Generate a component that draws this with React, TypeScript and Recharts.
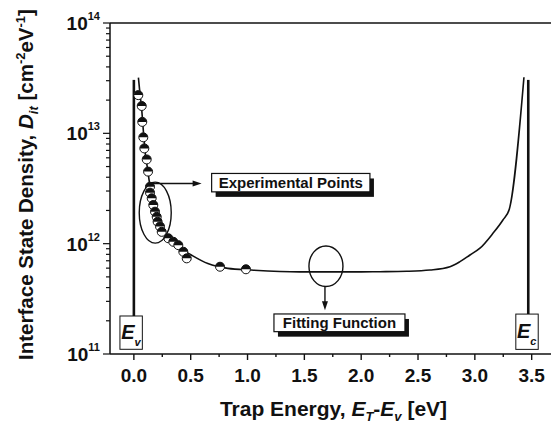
import React from "react";
import { ComposedChart, Line, Scatter, XAxis, YAxis, ReferenceLine, ReferenceDot, Label } from "recharts";

const FONT = '"Liberation Sans", Arial, Helvetica, sans-serif';
const INK = "#111";

// experimental points: E_T - E_v [eV] and Dit [cm^-2 eV^-1]
const expEnergy = [0.039, 0.069, 0.074, 0.083, 0.092, 0.113, 0.125, 0.142, 0.142, 0.157, 0.171, 0.186, 0.201, 0.209, 0.23, 0.245, 0.303, 0.347, 0.391, 0.435, 0.465, 0.758, 0.986];
const expDit = [2.22e13, 1.77e13, 1.27e13, 9.2e12, 7.3e12, 5.8e12, 4.5e12, 3.28e12, 2.9e12, 2.58e12, 2.24e12, 1.95e12, 1.75e12, 1.58e12, 1.43e12, 1.28e12, 1.12e12, 1.04e12, 9.7e11, 8.45e11, 7.36e11, 6.18e11, 5.86e11];

// fitting function
const fitEnergy = [0.04, 0.05, 0.07, 0.085, 0.1, 0.12, 0.14, 0.167, 0.211, 0.285, 0.387, 0.505, 0.651, 0.827, 1.032, 1.457, 2.0, 2.165, 2.4, 2.605, 2.781, 2.869, 2.957, 3.045, 3.159, 3.247, 3.303, 3.432];
const fitDit = [3.2e13, 2.5e13, 1.6e13, 1.0e13, 6.6e12, 4.8e12, 3.4e12, 2.32e12, 1.64e12, 1.2e12, 9.4e11, 7.9e11, 6.6e11, 5.97e11, 5.77e11, 5.55e11, 5.55e11, 5.57e11, 5.62e11, 5.77e11, 6.18e11, 6.87e11, 7.9e11, 9.1e11, 1.24e12, 1.64e12, 2.05e12, 3.22e13];

// band edges
const evEnergy = [0, 0];
const evDit = [3.05e13, 2.2e11];
const ecEnergy = [3.47, 3.47];
const ecDit = [3.05e13, 2.3e11];

const xMajor = [0, 0.5, 1, 1.5, 2, 2.5, 3, 3.5];
const xMinor = [0.25, 0.75, 1.25, 1.75, 2.25, 2.75, 3.25];
const yMajor = [1e11, 1e12, 1e13, 1e14];
const yMinor = [2e11, 3e11, 4e11, 5e11, 6e11, 7e11, 8e11, 9e11, 2e12, 3e12, 4e12, 5e12, 6e12, 7e12, 8e12, 9e12, 2e13, 3e13, 4e13, 5e13, 6e13, 7e13, 8e13, 9e13];

const expData = expEnergy.map((e, i) => ({ e, d: expDit[i] }));
const fitData = fitEnergy.map((e, i) => ({ e, d: fitDit[i] }));
const evData = evEnergy.map((e, i) => ({ e, d: evDit[i] }));
const ecData = ecEnergy.map((e, i) => ({ e, d: ecDit[i] }));

const XTick = (props: any) => {
    const { x, y, payload } = props;
    const major = xMajor.includes(payload.value);
    return (
        <g>
            <line x1={x} x2={x} y1={y} y2={y + (major ? 6 : 3)} stroke={INK} strokeWidth={1.4} />
            {major && (
                <text x={x} y={y + 28} textAnchor="middle" fontFamily={FONT} fontWeight="bold" fontSize={19} fill={INK}>
                    {payload.value.toFixed(1)}
                </text>
            )}
        </g>
    );
};

const YTick = (props: any) => {
    const { x, y, payload } = props;
    const major = yMajor.includes(payload.value);
    const exp = Math.round(Math.log10(payload.value));
    return (
        <g>
            <line x1={x - (major ? 7 : 4)} x2={x} y1={y} y2={y} stroke={INK} strokeWidth={1.2} />
            {major && (
                <text x={x - 10} y={y + 7} textAnchor="end" fontFamily={FONT} fontWeight="bold" fontSize={19} fill={INK}>
                    10<tspan fontSize={11} dy={-10}>{exp}</tspan>
                </text>
            )}
        </g>
    );
};

const XTitle = (props: any) => {
    const { x, y, width } = props.viewBox;
    return (
        <text x={x + width / 2 + 3} y={y + 62} textAnchor="middle" fontFamily={FONT} fontWeight="bold" fontSize={21} fill={INK}>
            Trap Energy, <tspan fontStyle="italic">E</tspan>
            <tspan fontSize={13} dy={5} fontStyle="italic">T</tspan>
            <tspan dy={-5}>-</tspan>
            <tspan fontStyle="italic">E</tspan>
            <tspan fontSize={13} dy={5} fontStyle="italic">v</tspan>
            <tspan dy={-5}> [eV]</tspan>
        </text>
    );
};

const YTitle = (props: any) => {
    const { y, height } = props.viewBox;
    const cx = 33;
    const cy = y + height / 2 - 4;
    return (
        <text x={cx} y={cy} transform={`rotate(-90, ${cx}, ${cy})`} textAnchor="middle" fontFamily={FONT} fontWeight="bold" fontSize={20.5} fill={INK}>
            Interface State Density, <tspan fontStyle="italic">D</tspan>
            <tspan fontSize={13} dy={5} fontStyle="italic">it</tspan>
            <tspan dy={-5}> [cm</tspan>
            <tspan fontSize={13} dy={-8}>-2</tspan>
            <tspan dy={8}>eV</tspan>
            <tspan fontSize={13} dy={-8}>-1</tspan>
            <tspan dy={8}>]</tspan>
        </text>
    );
};

const HalfDot = (props: any) => {
    const { cx, cy } = props;
    const r = 4.5;
    return (
        <g>
            <circle cx={cx} cy={cy} r={r} fill="#fff" stroke={INK} strokeWidth={1} />
            <path d={`M${cx - r},${cy} A${r},${r} 0 0 1 ${cx + r},${cy} Z`} fill={INK} />
        </g>
    );
};

const NoteBox = ({ x, y, w, h, text }: { x: number; y: number; w: number; h: number; text: string }) => (
    <g>
        <rect x={x + 4} y={y + 5} width={w} height={h} fill={INK} />
        <rect x={x} y={y} width={w} height={h} fill="#fff" stroke={INK} strokeWidth={1.2} />
        <text x={x + w / 2} y={y + 14.3} textAnchor="middle" fontFamily={FONT} fontWeight="bold" fontSize={15} fill={INK}>
            {text}
        </text>
    </g>
);

// ellipse round the experimental points, arrow to the right, label box
const PointsNote = (props: any) => {
    const { cx, cy } = props;
    const ay = cy - 29.2;
    const tip = cx + 46.4;
    return (
        <g>
            <ellipse cx={cx} cy={cy} rx={16} ry={30.5} fill="none" stroke={INK} strokeWidth={1.4} />
            <line x1={cx - 3.6} x2={tip - 7} y1={ay} y2={ay} stroke={INK} strokeWidth={1.4} />
            <polygon points={`${tip},${ay} ${tip - 9},${ay - 3} ${tip - 9},${ay + 3}`} fill={INK} />
            <NoteBox x={cx + 56.4} y={cy - 39.2} w={158.3} h={18.4} text="Experimental Points" />
        </g>
    );
};

// ellipse on the fitted curve, arrow down, label box
const FitNote = (props: any) => {
    const { cx, cy } = props;
    const ax = cx - 1;
    const tip = cy + 44;
    return (
        <g>
            <ellipse cx={cx} cy={cy} rx={17} ry={20.3} fill="none" stroke={INK} strokeWidth={1.4} />
            <line x1={ax} x2={ax} y1={cy + 20.3} y2={tip - 7} stroke={INK} strokeWidth={1.4} />
            <polygon points={`${ax},${tip} ${ax - 3},${tip - 9} ${ax + 3},${tip - 9}`} fill={INK} />
            <NoteBox x={cx - 52} y={cy + 47.7} w={131} h={17.7} text="Fitting Function" />
        </g>
    );
};

const EdgeBox = (sub: string, top: number, h: number) => (props: any) => {
    const { cx, cy } = props;
    return (
        <g>
            <rect x={cx - 11.2} y={cy + top} width={22.4} height={h} fill="#fff" stroke={INK} strokeWidth={1} />
            <text x={cx - 10} y={cy + 6.5} fontFamily={FONT} fontWeight="bold" fontStyle="italic" fontSize={20} fill={INK}>
                E<tspan fontSize={11} dy={7}>{sub}</tspan>
            </text>
        </g>
    );
};

const EvBox = EdgeBox("v", -16.7, 33.3);
const EcBox = EdgeBox("c", -17.7, 35.3);

export default function App() {
    return (
        <div style={{ position: "absolute", left: 0, top: 0, background: "#fff" }}>
            <ComposedChart width={551} height={430} margin={{ top: 23, right: 0, bottom: 0, left: 0 }}>
                <XAxis
                    type="number"
                    dataKey="e"
                    domain={[-0.21, 3.67]}
                    allowDataOverflow
                    ticks={[...xMajor, ...xMinor].sort((a, b) => a - b)}
                    interval={0}
                    tick={<XTick />}
                    tickLine={false}
                    tickSize={0}
                    tickMargin={0}
                    axisLine={{ stroke: INK, strokeWidth: 1.5 }}
                    height={76}
                >
                    <Label content={<XTitle />} />
                </XAxis>
                <YAxis
                    type="number"
                    dataKey="d"
                    scale="log"
                    domain={[1e11, 1e14]}
                    allowDataOverflow
                    ticks={[...yMajor, ...yMinor].sort((a, b) => a - b)}
                    interval={0}
                    tick={<YTick />}
                    tickLine={false}
                    tickSize={0}
                    tickMargin={0}
                    axisLine={{ stroke: INK, strokeWidth: 1.5 }}
                    width={110}
                >
                    <Label content={<YTitle />} />
                </YAxis>
                <ReferenceLine y={1e14} stroke={INK} strokeWidth={1.5} />
                <Line data={evData} dataKey="d" type="linear" stroke={INK} strokeWidth={2.6} dot={false} isAnimationActive={false} />
                <Line data={ecData} dataKey="d" type="linear" stroke={INK} strokeWidth={2.6} dot={false} isAnimationActive={false} />
                <Line data={fitData} dataKey="d" type="monotone" stroke={INK} strokeWidth={1.6} dot={false} isAnimationActive={false} />
                <Scatter data={expData} dataKey="d" shape={<HalfDot />} isAnimationActive={false} />
                <ReferenceDot x={0.188} y={1.91e12} shape={PointsNote} />
                <ReferenceDot x={1.69} y={6.24e11} shape={FitNote} />
                <ReferenceDot x={-0.024} y={1.56e11} shape={EvBox} />
                <ReferenceDot x={3.459} y={1.59e11} shape={EcBox} />
            </ComposedChart>
        </div>
    );
}
